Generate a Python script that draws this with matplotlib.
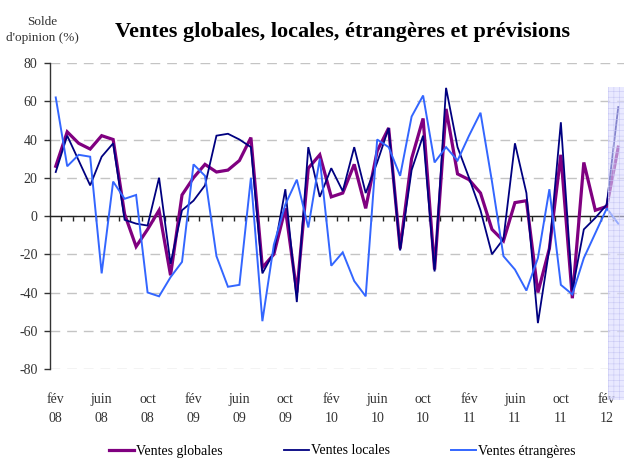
import matplotlib
matplotlib.use("Agg")
import matplotlib.pyplot as plt
from matplotlib.patches import Rectangle

plt.rcParams['font.family'] = ['Liberation Serif', 'DejaVu Serif']
plt.rcParams['axes.unicode_minus'] = False
plt.rcParams['hatch.linewidth'] = 0.4
plt.rcParams['hatch.color'] = '#c8c8f4'

# Monthly categories: fév 08 ... mars 12 (last month = forecast)
n_months = 50

tick_labels = ["fév\n08", "juin\n08", "oct\n08", "fév\n09", "juin\n09", "oct\n09",
               "fév\n10", "juin\n10", "oct\n10", "fév\n11", "juin\n11", "oct\n11", "fév\n12"]

globales = [26, 44, 38, 35, 42, 40, 1, -16, -7, 3, -31, 11, 20, 27, 23, 24, 29, 41,
            -27, -20, 4, -40, 25, 32, 10, 12, 27, 4, 34, 46, -17, 30, 51, -28, 56, 22,
            19, 12, -7, -13, 7, 8, -40, -17, 32, -43, 28, 3, 5, 36]
locales = [23, 42, 29, 16, 31, 38, -2, -4, -5, 20, -25, 3, 8, 16, 42, 43, 40, 36,
           -30, -19, 14, -45, 36, 10, 25, 13, 36, 12, 28, 46, -18, 24, 42, -29, 67, 36,
           20, 3, -20, -12, 38, 12, -56, -17, 49, -39, -7, -1, 6, 57]
etrangeres = [62, 26, 32, 31, -30, 18, 9, 11, -40, -42, -32, -24, 27, 21, -21, -37, -36, 20,
              -55, -15, 6, 19, -6, 30, -26, -19, -34, -42, 40, 36, 21, 52, 63, 28, 36, 29,
              42, 54, 18, -21, -28, -39, -22, 14, -36, -41, -22, -9, 4, -4]

series_names = ["Ventes globales", "Ventes locales", "Ventes étrangères"]
colors = ["#800080", "#000080", "#3366FF"]
widths = [2.3, 1.3, 1.4]

fig = plt.figure(figsize=(6.24, 4.59), dpi=100)
ax = fig.add_axes([50/624, 1-369/459, 574/624, (369-63)/459])

x = list(range(n_months))
for vals, name, c, w in zip([globales, locales, etrangeres], series_names, colors, widths):
    ax.plot(x, vals, color=c, lw=w, label=name, zorder=3, solid_joinstyle='miter')

ax.set_xlim(-0.5, n_months - 0.5)
ax.set_ylim(-80, 80)
ax.set_yticks(range(-80, 81, 20))
ax.yaxis.grid(True, color='#c4c4c4', lw=1.0, linestyle=(0, (7, 5)))
ax.set_axisbelow(True)
ax.tick_params(axis='y', direction='out', length=4, width=1, color='#333333',
               labelsize=10, labelcolor='#333333', pad=5)

for s in ['top', 'right']:
    ax.spines[s].set_visible(False)
ax.spines['left'].set_color('#333333')
ax.spines['left'].set_linewidth(1)
ax.spines['bottom'].set_position(('data', 0))
ax.spines['bottom'].set_color('#222222')
ax.spines['bottom'].set_linewidth(1)
ax.spines['bottom'].set_zorder(2.5)
ax.set_xticks([i + 0.5 for i in range(n_months - 1)])
ax.set_xticklabels([])
ax.tick_params(axis='x', direction='out', length=3.5, width=1, color='#222222')

sec = ax.secondary_xaxis('bottom')
sec.set_xticks(list(range(0, 49, 4)), tick_labels)
sec.spines['bottom'].set_visible(False)
sec.tick_params(length=0, pad=17, labelsize=10, labelcolor='#333333')
for lab in sec.get_xticklabels():
    lab.set_linespacing(1.6)

# forecast shading
rect = Rectangle((48.13, -96), 49.5 - 48.13, 67.3 + 96, transform=ax.transData,
                 facecolor=(0.86, 0.86, 1.0, 0.6), edgecolor='#c8c8f4', hatch='+++',
                 lw=0, zorder=5, clip_on=False)
ax.add_patch(rect)

fig.text(342/624, 1-32/459, "Ventes globales, locales, étrangères et prévisions",
         ha='center', va='center', fontsize=16, fontweight='bold')
fig.text(42/624, 1-30/459, "Solde\nd'opinion (%)", ha='center', va='center',
         fontsize=9.5, color='#333333', linespacing=1.55)

fig.legend(loc='center', bbox_to_anchor=(342/624, 1-451/459), ncol=3, frameon=False,
           handlelength=1.8, handletextpad=0.15, columnspacing=4.4, fontsize=10)

fig.savefig("out.png", dpi=100)
